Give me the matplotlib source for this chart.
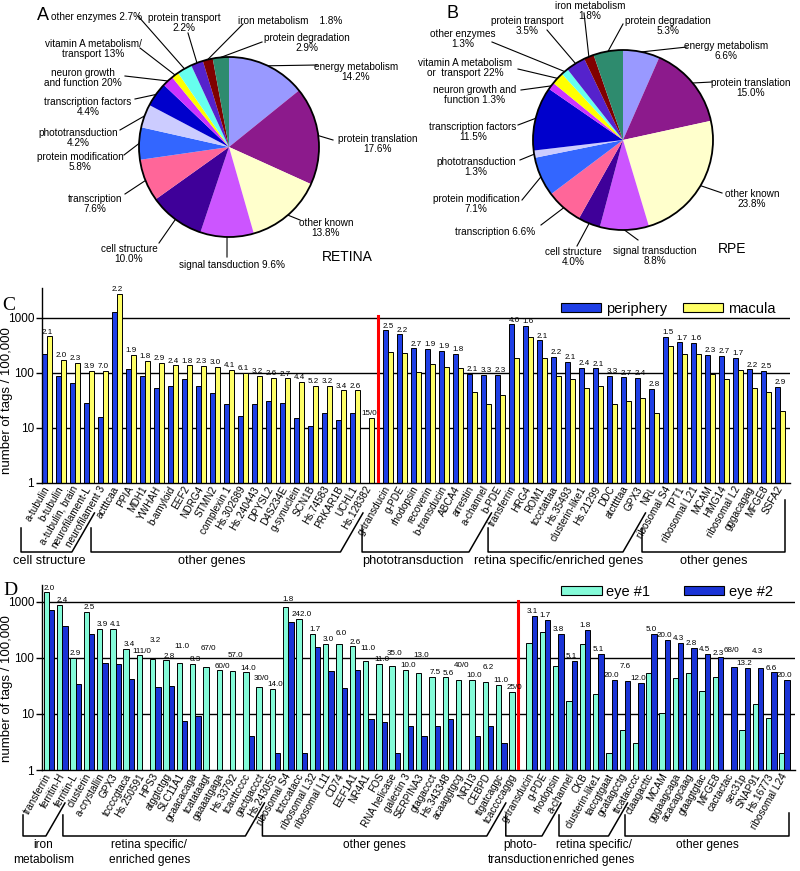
import numpy as np
import matplotlib
matplotlib.use("Agg")
import matplotlib.pyplot as plt
from matplotlib.patches import Patch, Circle
from matplotlib.ticker import NullLocator

plt.rcParams['font.family'] = ['Liberation Sans', 'DejaVu Sans']

W, H = 800, 871

# ---------------- pies A (retina) and B (RPE) ----------------
pie_cats = ["energy metabolism", "protein translation", "other known", "signal transduction",
            "cell structure", "transcription", "protein modification", "phototransduction",
            "transcription factors", "neuron growth and function", "vitamin A metabolism/transport",
            "other enzymes", "protein transport", "iron metabolism", "protein degradation"]
retina_pct = [14.2, 17.6, 13.8, 9.6, 10.0, 7.6, 5.8, 4.2, 4.4, 2.0, 1.3, 2.7, 2.2, 1.8, 2.9]
rpe_pct = [6.6, 15.0, 23.8, 8.8, 4.0, 6.6, 7.1, 1.3, 11.5, 1.3, 2.2, 1.3, 3.5, 1.8, 5.3]
pie_colors = ['#9999ff', '#8c1a8c', '#ffffcc', '#cc55ff', '#3f0099', '#ff6699', '#3366ff',
              '#ccccff', '#0000cc', '#cc33ff', '#ffff00', '#66ffee', '#5522cc', '#800000', '#2e8b6e']

retina_texts = ["energy metabolism\n14.2%", "protein translation\n17.6%", "other known\n13.8%",
                "signal tansduction 9.6%", "cell structure\n10.0%", "transcription\n7.6%",
                "protein modification\n5.8%", "phototransduction\n4.2%", "transcription factors\n4.4%",
                "neuron growth\nand function 20%", "vitamin A metabolism/\ntransport 13%",
                "other enzymes 2.7%", "protein transport\n2.2%", "iron metabolism    1.8%",
                "protein degradation\n2.9%"]
rpe_texts = ["energy metabolism\n6.6%", "protein translation\n15.0%", "other known\n23.8%",
             "signal transduction\n8.8%", "cell structure\n4.0%", "transcription 6.6%",
             "protein modification\n7.1%", "phototransduction\n1.3%", "transcription factors\n11.5%",
             "neuron growth and\nfunction 1.3%", "vitamin A metabolism\nor  transport 22%",
             "other enzymes\n1.3%", "protein transport\n3.5%", "iron metabolism\n1.8%",
             "protein degradation\n5.3%"]

# label placement (pixels, top-left origin)
retina_text_xy = [(356, 72), (378, 144), (326, 228), (232, 265), (129, 254), (95, 204), (80, 162),
                  (78, 138), (88, 107), (83, 78), (93, 49), (97, 17), (184, 23), (290, 21), (307, 43)]
retina_lead_xy = [(317, 65), (333, 140), (300, 220), (227, 257), (159, 243), (125, 194), (124, 155),
                  (120, 130), (135, 99), (125, 76), (140, 48), (138, 16), (188, 33), (243, 24), (262, 42)]
rpe_text_xy = [(726, 51), (751, 88), (752, 199), (655, 256), (573, 257), (495, 232), (476, 204),
               (476, 167), (473, 132), (475, 95), (465, 68), (463, 39), (527, 26), (590, 11), (668, 26)]
rpe_lead_xy = [(687, 47), (712, 82), (722, 193), (638, 240), (577, 246), (541, 225), (522, 200),
               (520, 160), (518, 125), (521, 90), (518, 69), (492, 42), (547, 30), (584, 13), (623, 24)]

# ---------------- panel C: periphery vs macula ----------------
c_genes = ["a-tubulin", "b-tubulin", "a-tubulin, brain", "neurofilament-L", "neurofilament 3",
           "actttcaa", "PPIA", "MDH1", "YWHAH", "b-amyloid", "EEF2", "NDRG4", "STMN2",
           "complexin 1", "Hs.302689", "Hs.240443", "DPYSL2", "D4S234E", "g-synuclein", "SCN1B",
           "Hs.74583", "PRKAR1B", "UCHL1", "Hs.128382",
           "g-transducin", "g-PDE", "rhodopsin", "recoverin", "b-transducin", "ABCA4", "arrestin",
           "a-channel", "b-PDE", "transferrin", "HRG4", "ROM1", "tccctattaa", "Hs.35493",
           "clusterin-like1", "Hs.21299", "DDC", "atcttttaa", "GPX3", "NRL", "ribosomal S4",
           "TPT1", "ribosomal L21", "MCAM", "HMG14", "ribosomal L2", "gggacagag", "MFGE8", "SSFA2"]
periphery = [219, 86, 65, 28, 15.5, 1254, 115, 88, 52, 57, 76, 57, 42, 27, 16.3, 27, 31, 28,
             15.2, 10.9, 18.3, 13.8, 18.3, 0,
             590, 499, 278, 272, 248, 219, 94, 91, 91, 760, 708, 388, 195, 158, 124, 120, 88, 82,
             81, 51, 452, 357, 350, 210, 205, 187, 115, 107, 56]
macula = [460, 172, 150, 109, 108, 2700, 214, 162, 151, 137, 137, 132, 128, 112, 100, 87, 81, 79,
          69, 58, 58, 48, 48, 15,
          235, 227, 103, 143, 128, 123, 45, 27, 40, 186, 440, 186, 87, 78, 52, 58, 27, 31, 35,
          18.6, 306, 217, 223, 96, 78, 113, 52, 44, 20]
c_ratio = ["2.1", "2.0", "2.3", "3.9", "7.0", "2.2", "1.9", "1.8", "2.9", "2.4", "1.8", "2.3",
           "3.0", "4.1", "6.1", "3.2", "2.6", "2.7", "4.4", "5.2", "3.2", "3.4", "2.6", "15/0",
           "2.5", "2.2", "2.7", "1.9", "1.9", "1.8", "2.1", "3.3", "2.3", "4.0", "1.6", "2.1",
           "2.2", "2.1", "2.4", "2.1", "3.3", "2.7", "2.4", "2.8", "1.5", "1.7", "1.6", "2.3",
           "2.7", "1.7", "2.2", "2.5", "2.9"]
c_groups = [("cell structure", 0, 4), ("other genes", 5, 23), ("phototransduction", 24, 32),
            ("retina specific/enriched genes", 33, 43), ("other genes", 44, 52)]
c_group_dx = [3, -4, -3, 3, 0]

# ---------------- panel D: eye #1 vs eye #2 ----------------
d_genes = ["transferrin", "ferritin-H", "ferritin-L", "clusterin", "a-crystallin", "GPX3",
           "tccccgtaca", "Hs.250591", "HPS3", "atggtctgg", "SLC11A1", "gcaacacaga", "tcatataagt",
           "gaaaatgaga", "Hs.33792", "tcacttcccc", "gactgaccct", "Hs.243055", "ribosomal S4",
           "tctccatacc", "ribosomal L32", "ribosomal L11", "CD74", "EEF1A1", "NR4A1", "FOS",
           "RNA helicase", "galectin 3", "SERPINA3", "gtagaccct", "Hs.343348", "acaaggtgcg",
           "NR1I3", "CEBPD", "ttgatcaggc", "tcaccccaggg",
           "g-transducin", "g-PDE", "rhodopsin", "a-channel", "CKB", "clusterin-like1",
           "taccgtgaat", "gcatagcctg", "ttcatacccc", "ctaagacttc", "MCAM", "gggaagcaga",
           "acacagcaag", "gtaagtgtac", "MFGE8", "cactactac", "sec31p", "SNAP91", "Hs.16773",
           "ribosomal L24"]
eye1 = [1466, 884, 99, 655, 325, 325, 145, 111, 96, 90, 82, 77, 68, 60, 57, 55, 30, 28, 790,
        490, 265, 176, 175, 159, 88, 77, 72, 61, 53, 46, 45, 40, 40, 37.7, 33, 25,
        183, 288, 72, 17, 178, 23, 2.0, 5.2, 3.0, 53, 10.5, 43, 53, 26, 46, 0, 5.2, 15, 8.3, 2.0]
eye2 = [720, 373, 34, 265, 82, 79, 42, 0, 30, 32, 7.5, 9.2, 0, 0, 1, 4.0, 0, 2.0, 440, 2.0, 153,
        59, 29, 61, 8.0, 7.1, 2.0, 6.1, 4.0, 6.1, 8.0, 0, 4.0, 6.1, 3.0, 0,
        562, 477, 270, 88, 316, 117, 40, 39, 36, 265, 210, 183, 149, 116, 102, 68, 67, 67, 55, 40]
d_ratio = ["2.0", "2.4", "2.9", "2.5", "3.9", "4.1", "3.4", "111/0", "3.2", "2.8", "11.0", "8.3",
           "67/0", "60/0", "57.0", "14.0", "30/0", "14.0", "1.8", "242.0", "1.7", "3.0", "6.0",
           "2.6", "11.0", "11.0", "35.0", "10.0", "13.0", "7.5", "5.6", "40/0", "10.0", "6.2",
           "11.0", "25/0",
           "3.1", "1.7", "3.8", "5.1", "1.8", "5.1", "20.0", "7.6", "12.0", "5.0", "20.0", "4.3",
           "2.8", "4.5", "2.3", "68/0", "13.2", "4.3", "6.6", "20.0"]
# extra lift (pixels) of some ratio labels, staggered as in the figure
d_lift = [0, 0, 0, 0, 0, 0, 0, 0, 14, 0, 12, 0, 14, 0, 12, 0, 4, 0, 4, 0, 0, 0, 6, 0,
          8, 0, 8, 0, 14, 0, 0, 10, 0, 10, 0, 0,
          0, 0, 0, 0, 0, 0, 0, 10, 0, 0, 0, 0, 0, 0, 0, 12, 0, 12, 0, 0]
d_groups = [("iron\nmetabolism", 0, 2), ("retina specific/\nenriched genes", 3, 17),
            ("other genes", 18, 35), ("photo-\ntransduction", 36, 39),
            ("retina specific/\nenriched genes", 40, 44), ("other genes", 45, 55)]
d_group_dx = [9, -5, 0, -4, 10, 0]

BLUE = '#1f3fe6'
BLUE2 = '#1a33d6'
YELLOW = '#ffff66'
AQUA = '#84fbd8'

fig = plt.figure(figsize=(W / 100, H / 100), dpi=100)
ov = fig.add_axes([0, 0, 1, 1])
ov.set_xlim(0, W)
ov.set_ylim(H, 0)
ov.axis('off')


def pie_panel(cx, cy, r, pct, texts, text_xy, lead_xy):
    ax = fig.add_axes([(cx - 1.05 * r) / W, (H - cy - 1.05 * r) / H, 2.1 * r / W, 2.1 * r / H])
    wedges, _ = ax.pie(pct, colors=pie_colors, startangle=90, counterclock=False,
                       wedgeprops=dict(linewidth=0))
    ax.add_patch(Circle((0, 0), 1, fill=False, ec='black', lw=1.3))
    ax.set_xlim(-1.05, 1.05)
    ax.set_ylim(-1.05, 1.05)
    ax.set_aspect('auto')
    for w, t, (tx, ty), (lx, ly) in zip(wedges, texts, text_xy, lead_xy):
        th = np.radians((w.theta1 + w.theta2) / 2)
        ov.plot([cx + r * np.cos(th), lx], [cy - r * np.sin(th), ly], color='black', lw=0.8)
        ov.text(tx, ty, t, ha='center', va='center', fontsize=7.2, linespacing=1.05)
    return ax


pie_panel(229, 147, 90, retina_pct, retina_texts, retina_text_xy, retina_lead_xy)
pie_panel(623, 140, 90, rpe_pct, rpe_texts, rpe_text_xy, rpe_lead_xy)
ov.text(347, 257, "RETINA", ha='center', va='center', fontsize=10)
ov.text(732, 249, "RPE", ha='center', va='center', fontsize=10)
ov.text(43, 15, "A", ha='center', va='center', fontsize=13)
ov.text(452, 13, "B", ha='center', va='center', fontsize=13)


def bar_panel(rect, xlim, ylim, x, v1, v2, c1, c2, w, ratios, lift, genes, red_x, red_top):
    ax = fig.add_axes(rect)
    ax.set_yscale('log')
    for yv in (10, 100, 1000):
        ax.axhline(yv, color='black', lw=1.0, zorder=0.5)
    ax.bar(x - w / 2, v1, w, color=c1, edgecolor='black', lw=0.7, zorder=2)
    ax.bar(x + w / 2, v2, w, color=c2, edgecolor='black', lw=0.7, zorder=2)
    ax.plot([red_x, red_x], [1, red_top], color='#ff0000', lw=2.2, zorder=3)
    for xi, a, b, s, up in zip(x, v1, v2, ratios, lift):
        ax.annotate(s, (xi, max(a, b)), xytext=(0, 0.5 + up * 0.72), textcoords='offset points',
                    ha='center', va='bottom', fontsize=5.8)
    ax.set_xlim(*xlim)
    ax.set_ylim(*ylim)
    ax.set_yticks([1, 10, 100, 1000])
    ax.set_yticklabels(['1', '10', '100', '1000'])
    ax.yaxis.set_minor_locator(NullLocator())
    ax.tick_params(axis='y', length=4.5, width=1, pad=1, labelsize=8.5)
    ax.set_xticks(x)
    ax.set_xticklabels(genes, rotation=60, ha='right', va='center', rotation_mode='anchor',
                       fontsize=7.2)
    ax.tick_params(axis='x', length=0, pad=3)
    for s in ('top', 'right'):
        ax.spines[s].set_visible(False)
    ax.spines['left'].set_linewidth(1)
    ax.spines['bottom'].set_linewidth(1)
    ax.patch.set_alpha(0)
    return ax


def brackets(ax, x, groups, y_anchor, y_bot, y_diag, y_left, y_last, text_y, fs, va, dx):
    px = ax.transData.transform(np.column_stack([x, np.ones(len(x))]))[:, 0]
    t60 = np.tan(np.radians(60))
    for k, (name, a, b) in enumerate(groups):
        xl = px[a] - 26
        if k == len(groups) - 1:
            xr = px[b] + 5
            xs, ys = [xl, xl, xr, xr], [y_left, y_bot, y_bot, y_last]
        else:
            xm = (px[b] + px[b + 1]) / 2
            xr = xm - (y_bot - y_anchor) / t60
            xs = [xl, xl, xr, xm - (y_diag - y_anchor) / t60]
            ys = [y_left, y_bot, y_bot, y_diag]
        ov.plot(xs, ys, color='black', lw=1.1)
        ov.text((xl + xr) / 2 + dx[k], text_y, name, ha='center', va=va, fontsize=fs,
                linespacing=1.3)


# panel C
c_x = np.concatenate([np.arange(24), 24.36 + np.arange(29)])
axc = bar_panel([41.7 / W, (H - 482.7) / H, 748.3 / W, 194.9 / H], (-0.38, 53.07), (1, 3500),
                c_x, np.array(periphery), np.array(macula), BLUE, YELLOW, 0.36, c_ratio,
                [0] * len(c_ratio), c_genes, 23.64, 1080)
axc.set_ylabel("number of tags / 100,000", fontsize=9.5)
axc.yaxis.set_label_coords(-0.038, 0.42)
axc.legend(handles=[Patch(facecolor=BLUE, edgecolor='black', lw=0.8, label='periphery'),
                    Patch(facecolor=YELLOW, edgecolor='black', lw=0.8, label='macula')],
           ncol=2, loc='center right', bbox_to_anchor=(0.9987, 0.891), frameon=False,
           fontsize=10.5, handlelength=2.75, handleheight=0.55, handletextpad=0.35,
           columnspacing=1.1)
brackets(axc, c_x, c_groups, 486, 552, 513, 528, 500, 561, 9.2, 'center', c_group_dx)
ov.text(9, 305, "C", ha='center', va='center', fontsize=14, family='Liberation Serif')

# panel D
d_x = np.concatenate([np.arange(36), 36.3 + np.arange(20)])
axd = bar_panel([41.7 / W, (H - 770) / H, 753.3 / W, 185.2 / H], (-0.55, 56.09), (1, 2000),
                d_x, np.array(eye1), np.array(eye2), AQUA, BLUE2, 0.4, d_ratio, d_lift,
                d_genes, 35.25, 1050)
axd.set_ylabel("number of tags / 100,000", fontsize=9.5)
axd.yaxis.set_label_coords(-0.038, 0.44)
axd.legend(handles=[Patch(facecolor=AQUA, edgecolor='black', lw=0.8, label='eye #1'),
                    Patch(facecolor=BLUE2, edgecolor='black', lw=0.8, label='eye #2')],
           ncol=2, loc='center right', bbox_to_anchor=(0.988, 0.961), frameon=False,
           fontsize=10.5, handlelength=2.8, handleheight=0.55, handletextpad=0.3,
           columnspacing=2.3)
brackets(axd, d_x, d_groups, 773, 836, 803, 815, 813, 839, 8.6, 'top', d_group_dx)
ov.text(10, 590, "D", ha='center', va='center', fontsize=14, family='Liberation Serif')

fig.savefig("out.png", dpi=100)
